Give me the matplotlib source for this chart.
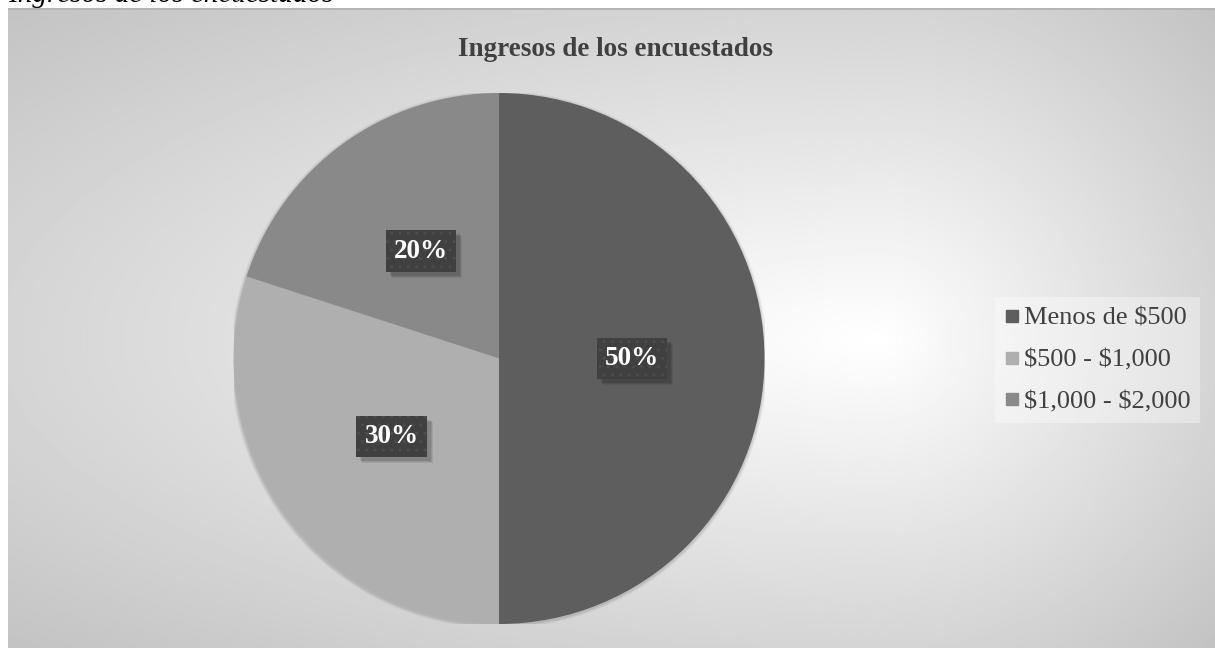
import matplotlib.pyplot as plt
from matplotlib.patches import Rectangle
from matplotlib.lines import Line2D
import numpy as np

plt.rcParams["font.family"] = ["Liberation Serif", "DejaVu Serif"]
plt.rcParams["text.parse_math"] = False
plt.rcParams["hatch.linewidth"] = 1.0

categories = ["Menos de $500", "$500 - $1,000", "$1,000 - $2,000"]
shares = [50, 30, 20]
colors = ["#5e5e5e", "#afafaf", "#898989"]

W, H = 1215, 648
fig = plt.figure(figsize=(W / 100, H / 100), dpi=100)
fig.patch.set_facecolor("white")

# chart area with radial gradient fill
bg = fig.add_axes([8 / W, 0, 1 - 8 / W, 1 - 8 / H])
bg.set_axis_off()
xs = np.linspace(8, W, 600)
ys = np.linspace(8, H, 320)
X, Y = np.meshgrid(xs, ys)
cx, cy = 880, 340
u = np.where(X > cx, (X - cx) / (W - cx), (X - cx) / (cx - 8))
v = np.where(Y > cy, (Y - cy) / (H - cy), (Y - cy) / (cy - 8))
r = np.clip(np.sqrt(u ** 2 + v ** 2) / np.sqrt(2), 0, 1)
shade = 255 - 60 * r
bg.imshow(shade, cmap="gray", vmin=0, vmax=255, aspect="auto",
          extent=(0, 1, 0, 1), interpolation="bilinear")
bg.set_xlim(0, 1)
bg.set_ylim(0, 1)
bg.axhline(1, color="#b4b4b4", linewidth=2)

# caption above the chart (cut by the page edge)
fig.text(8 / W, 1 - 1.5 / H, "Ingresos de los encuestados", style="italic",
         fontsize=21, va="baseline", ha="left", color="black")

fig.text(615 / W, 1 - 50 / H, "Ingresos de los encuestados",
         fontsize=19.5, fontweight="bold", color="#404040",
         ha="center", va="center")

# pie
pcx, pcy, rad = 499, 358.5, 265.5
ax = fig.add_axes([(pcx - rad) / W, (H - pcy - rad) / H, 2 * rad / W, 2 * rad / H])
ax.set_axis_off()

# soft shadow under the pie
for k, a in zip([1.012, 1.008, 1.004], [0.04, 0.05, 0.06]):
    ax.add_patch(plt.Circle((0, -0.004), k, color="black", alpha=a, lw=0, zorder=0))

wedges, texts, autotexts = ax.pie(
    shares, colors=colors, startangle=90, counterclock=False, radius=1,
    autopct="%1.0f%%", pctdistance=0.5,
    wedgeprops=dict(linewidth=0),
    textprops=dict(color="white", fontsize=19.5, fontweight="bold"))
ax.set_xlim(-1, 1)
ax.set_ylim(-1, 1)

for t in autotexts:
    t.set_zorder(5)
    t.set_bbox(dict(boxstyle="square,pad=0.3", facecolor="#404040",
                    edgecolor="#4d4d4d", linewidth=0, hatch=".."))

# blurred drop shadow behind each label box, placed from the rendered boxes
fig.canvas.draw()
for t in autotexts:
    bb = t.get_bbox_patch().get_window_extent()
    for off, a in [(6, 0.07), (5, 0.09), (4, 0.11)]:
        ax.add_patch(Rectangle((bb.x0 + off, bb.y0 - off), bb.width, bb.height,
                               transform=None, facecolor="black", alpha=a,
                               linewidth=0, zorder=4))

handles = [Line2D([], [], marker="s", linestyle="none", markersize=9,
                  markerfacecolor=c, markeredgecolor=c) for c in colors]
leg = fig.legend(handles, categories, loc="center left",
                 bbox_to_anchor=(995 / W, 1 - 360 / H),
                 fontsize=19, frameon=True, fancybox=False,
                 handlelength=0.6, handletextpad=0.15, labelspacing=0.7,
                 borderpad=0.35, borderaxespad=0)
leg.get_frame().set_facecolor("white")
leg.get_frame().set_alpha(0.35)
leg.get_frame().set_linewidth(0)
for txt in leg.get_texts():
    txt.set_color("#404040")

fig.savefig("out.png", dpi=100)
